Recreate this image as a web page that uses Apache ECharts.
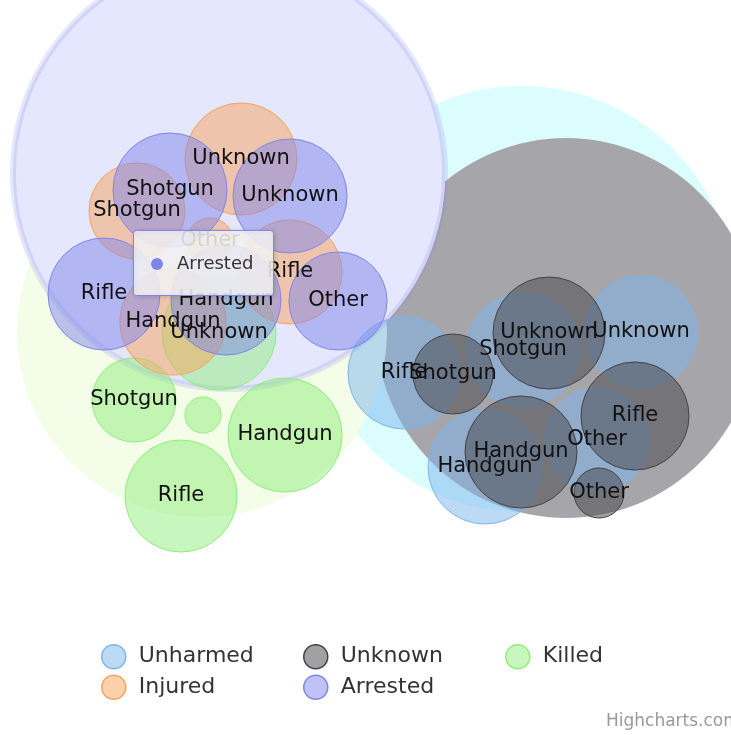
<!DOCTYPE html>
<html>
<head>
<meta charset="utf-8">
<script src="https://cdn.jsdelivr.net/npm/echarts@6/dist/echarts.min.js"></script>
<style>
  html, body { margin: 0; padding: 0; background: #fff; }
  #chart { width: 731px; height: 735px; }
</style>
</head>
<body>
<div id="chart"></div>
<script>
// groups in legend order, weapons in bubble order
const groups = ['Unharmed', 'Unknown', 'Killed', 'Injured', 'Arrested'];
const weapons = ['Handgun', 'Rifle', 'Shotgun', 'Other', 'Unknown'];

// values
const unharmed = [1000, 965, 1000, 832, 965];
const unknown = [965, 898, 492, 192, 965];
const killed = [1000, 965, 543, 100, 1000];
const injured = [865, 832, 709, 163, 965];
const arrested = [931, 965, 1000, 739, 1000];

const values = { Unharmed: unharmed, Unknown: unknown, Killed: killed, Injured: injured, Arrested: arrested };

// packed layout (result of the force simulation), in plot units
const childPos = {
  Unharmed: [[485, 467], [404, 373], [523, 350], [597, 440], [641, 332]],
  Unknown: [[521, 452], [635, 416], [453, 374], [599, 493], [549, 333]],
  Killed: [[285, 435], [181, 496], [134, 400], [203, 415], [219, 333]],
  Injured: [[173, 322], [290, 272], [137, 211], [210, 241], [241, 159]],
  Arrested: [[226, 300], [104, 294], [170, 190], [338, 301], [290, 196]]
};
const parentPos = {
  Unharmed: [522, 299, 213],
  Unknown: [566, 328, 190],
  Killed: [202, 332, 185],
  Injured: [232, 175, 213],
  Arrested: [229, 173, 216]
};

const colors = { Unharmed: '#7cb5ec', Unknown: '#434348', Killed: '#90ed7d', Injured: '#f7a35c', Arrested: '#8085e9' };
const parentFill = { Unharmed: '#dcfdfe', Unknown: '#a6a5aa', Killed: '#f4fde7', Injured: '#fbe9dc', Arrested: '#e4e7fd' };

// legend columns, as Highcharts lays them out
const legendCols = [['Unharmed', 'Injured'], ['Unknown', 'Arrested'], ['Killed']];

const MAX_R = 57;
const MAX_V = 1000;
const FONT = 'DejaVu Sans, Verdana, sans-serif';

function fade(hex, a) {
  const n = parseInt(hex.slice(1), 16);
  return 'rgba(' + (n >> 16) + ',' + ((n >> 8) & 255) + ',' + (n & 255) + ',' + a + ')';
}

const series = [];

// child bubbles
groups.forEach(g => {
  series.push({
    name: g,
    type: 'scatter',
    z: 2,
    silent: true,
    clip: false,
    symbol: 'circle',
    symbolSize: v => 2 * MAX_R * Math.sqrt(v[2] / MAX_V),
    itemStyle: { color: fade(colors[g], 0.5), borderColor: colors[g], borderWidth: 1, opacity: 1 },
    label: {
      show: true,
      position: 'inside',
      formatter: p => (p.value[2] > 150 ? p.name : ''),
      color: '#111',
      fontSize: 21,
      fontFamily: FONT
    },
    data: weapons.map((w, i) => ({
      name: w,
      value: [childPos[g][i][0], childPos[g][i][1], values[g][i]]
    }))
  });
});

// parent bubbles
groups.forEach(g => {
  const total = values[g].reduce((a, b) => a + b, 0);
  const p = parentPos[g];
  series.push({
    name: g + ' total',
    type: 'scatter',
    z: 1,
    silent: true,
    clip: false,
    symbol: 'circle',
    symbolSize: 2 * p[2],
    itemStyle: g === 'Arrested'
      ? { color: parentFill[g], borderColor: 'rgba(128,133,233,0.2)', borderWidth: 6, opacity: 1 }
      : { color: parentFill[g], opacity: 1 },
    data: [{ name: g, value: [p[0], p[1], total] }]
  });
});

const legends = legendCols.map((col, i) => ({
  left: 96 + i * 202,
  top: 639,
  orient: 'vertical',
  itemWidth: 24,
  itemHeight: 24,
  itemGap: 5,
  icon: 'circle',
  selectedMode: false,
  textStyle: { fontSize: 22, color: '#333', fontFamily: FONT, padding: [0, 0, 0, 8] },
  data: col.map(g => ({
    name: g,
    itemStyle: { color: fade(colors[g], 0.5), borderColor: colors[g], borderWidth: 1.5 }
  }))
}));

const chart = echarts.init(document.getElementById('chart'));
chart.setOption({
  animation: false,
  backgroundColor: '#fff',
  grid: { left: 0, right: 0, top: 0, bottom: 0 },
  xAxis: { type: 'value', min: 0, max: 731, show: false },
  yAxis: { type: 'value', min: 0, max: 735, inverse: true, show: false },
  legend: legends,
  graphic: [
    {
      type: 'rect',
      z: 100,
      shape: { x: 133.5, y: 230.5, width: 140, height: 65, r: 3 },
      style: {
        fill: 'rgba(247,247,247,0.85)',
        stroke: '#8085e9',
        lineWidth: 1,
        shadowBlur: 4,
        shadowOffsetX: 1,
        shadowOffsetY: 1,
        shadowColor: 'rgba(0,0,0,0.15)'
      }
    },
    { type: 'circle', z: 101, shape: { cx: 157, cy: 264, r: 6 }, style: { fill: '#8085e9' } },
    {
      type: 'text',
      z: 101,
      x: 177,
      y: 264,
      style: { text: 'Arrested', fontSize: 18, fontFamily: FONT, fill: '#333', verticalAlign: 'middle' }
    },
    {
      type: 'text',
      z: 101,
      x: 606,
      y: 722,
      style: { text: 'Highcharts.com', fontSize: 17, fontFamily: FONT, fill: '#999', verticalAlign: 'middle' }
    }
  ],
  series: series
});
</script>
</body>
</html>
